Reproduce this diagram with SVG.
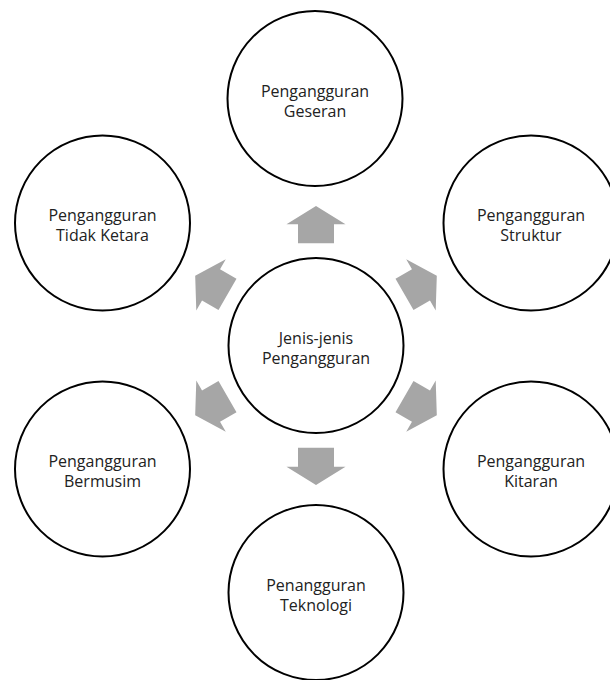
<svg xmlns="http://www.w3.org/2000/svg" xmlns:xlink="http://www.w3.org/1999/xlink" width="610" height="680" viewBox="0 0 610 680">
<style>
.node circle{fill:#fff;stroke:#000;stroke-width:2}
.node text{font-family:"Open Sans","Liberation Sans",sans-serif;font-size:16px;fill:#222;text-anchor:middle}
.arrow{fill:#a6a6a6}
</style>
<defs>
<path id="arr" d="M-18,-102.2 L-18,-121.2 L-29.5,-121.2 L0,-139.5 L29.5,-121.2 L18,-121.2 L18,-102.2 Z"/>
</defs>
<rect width="610" height="680" fill="#fff"/>
<g id="connectors" class="arrow" transform="translate(316 345.5)">
<use xlink:href="#arr" transform="rotate(0)"/>
<use xlink:href="#arr" transform="rotate(60)"/>
<use xlink:href="#arr" transform="rotate(120)"/>
<use xlink:href="#arr" transform="rotate(180)"/>
<use xlink:href="#arr" transform="rotate(240)"/>
<use xlink:href="#arr" transform="rotate(300)"/>
</g>
<g id="center" class="node"><circle cx="316" cy="345.5" r="87.5"/><text x="316" y="343.5">Jenis-jenis</text><text x="316" y="363.5">Pengangguran</text></g>
<g id="geseran" class="node"><circle cx="315" cy="98.5" r="87.5"/><text x="315" y="96.5">Pengangguran</text><text x="315" y="116.5">Geseran</text></g>
<g id="struktur" class="node"><circle cx="531" cy="223" r="87.5"/><text x="531" y="221">Pengangguran</text><text x="531" y="241">Struktur</text></g>
<g id="kitaran" class="node"><circle cx="531" cy="469" r="87.5"/><text x="531" y="467">Pengangguran</text><text x="531" y="487">Kitaran</text></g>
<g id="teknologi" class="node"><circle cx="316" cy="592.5" r="87.5"/><text x="316" y="590.5">Penangguran</text><text x="316" y="610.5">Teknologi</text></g>
<g id="bermusim" class="node"><circle cx="102.5" cy="469" r="87.5"/><text x="102.5" y="467">Pengangguran</text><text x="102.5" y="487">Bermusim</text></g>
<g id="tidakketara" class="node"><circle cx="102.5" cy="223" r="87.5"/><text x="102.5" y="221">Pengangguran</text><text x="102.5" y="241">Tidak Ketara</text></g>
</svg>
